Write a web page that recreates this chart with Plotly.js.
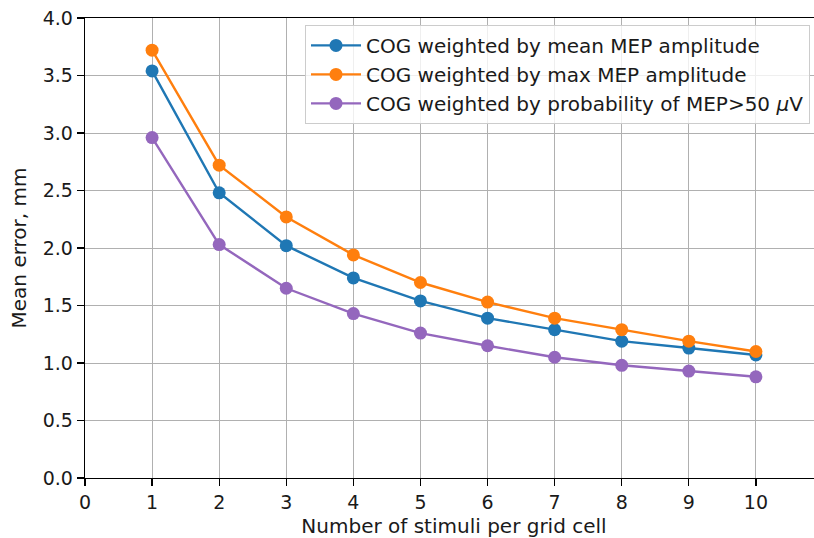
<!DOCTYPE html>
<html>
<head>
<meta charset="utf-8">
<script src="https://cdn.plot.ly/plotly-3.0.1.min.js"></script>
<style>html,body{margin:0;padding:0;background:#fff;overflow:hidden;width:814px;height:538px;}</style>
</head>
<body>
<div id="chart" style="width:823px;height:538px;"></div>
<script>
const stimuli = [1, 2, 3, 4, 5, 6, 7, 8, 9, 10];
const meanAmp = [3.54, 2.48, 2.02, 1.74, 1.54, 1.39, 1.29, 1.19, 1.13, 1.07];
const maxAmp = [3.72, 2.72, 2.27, 1.94, 1.70, 1.53, 1.39, 1.29, 1.19, 1.10];
const probAmp = [2.96, 2.03, 1.65, 1.43, 1.26, 1.15, 1.05, 0.98, 0.93, 0.88];
const seriesNames = [
  'COG weighted by mean MEP amplitude',
  'COG weighted by max MEP amplitude',
  'COG weighted by probability of MEP>50 <i>μ</i>V'
];
const colors = ['#1f77b4', '#ff7f0e', '#9467bd'];
const yTicks = [0, 0.5, 1.0, 1.5, 2.0, 2.5, 3.0, 3.5, 4.0];
const xTicks = [0, 1, 2, 3, 4, 5, 6, 7, 8, 9, 10];

const FONT = 'DejaVu Sans, sans-serif';
const TXT = '#1a1a1a';
const series = [meanAmp, maxAmp, probAmp];
const traces = series.map((ys, i) => ({
  x: stimuli, y: ys, type: 'scatter', mode: 'lines+markers',
  name: seriesNames[i],
  line: {color: colors[i], width: 2.4},
  marker: {color: colors[i], size: 13}
}));

const layout = {
  width: 823, height: 538,
  margin: {l: 85, r: 0, t: 18, b: 60},
  paper_bgcolor: '#fff', plot_bgcolor: '#fff',
  font: {family: FONT, size: 20, color: TXT},
  showlegend: true,
  legend: {
    x: 0.2981, y: 0.985, xanchor: 'left', yanchor: 'top',
    bgcolor: 'rgba(255,255,255,0.8)', bordercolor: '#cccccc', borderwidth: 1,
    itemwidth: 50,
    font: {family: FONT, size: 20, color: TXT}
  },
  xaxis: {
    range: [0, 11], tickmode: 'array', tickvals: xTicks,
    ticktext: xTicks.map(String),
    showgrid: true, gridcolor: '#b0b0b0', gridwidth: 1,
    zeroline: false, showline: true, mirror: true, linecolor: '#000', linewidth: 1.3,
    ticks: 'outside', ticklen: 7, tickcolor: '#000', tickwidth: 1.3,
    tickfont: {family: FONT, size: 19, color: TXT},
    title: {text: 'Number of stimuli per grid cell', font: {family: FONT, size: 20, color: TXT}, standoff: 11}
  },
  yaxis: {
    range: [0, 4], tickmode: 'array', tickvals: yTicks,
    ticktext: yTicks.map(v => v.toFixed(1)),
    showgrid: true, gridcolor: '#b0b0b0', gridwidth: 1,
    zeroline: false, showline: true, mirror: true, linecolor: '#000', linewidth: 1.3,
    ticks: 'outside', ticklen: 7, tickcolor: '#000', tickwidth: 1.3,
    tickfont: {family: FONT, size: 19, color: TXT},
    title: {text: 'Mean error, mm', font: {family: FONT, size: 20, color: TXT}, standoff: 10}
  }
};

Plotly.newPlot('chart', traces, layout, {displayModeBar: false, staticPlot: true});
</script>
</body>
</html>
